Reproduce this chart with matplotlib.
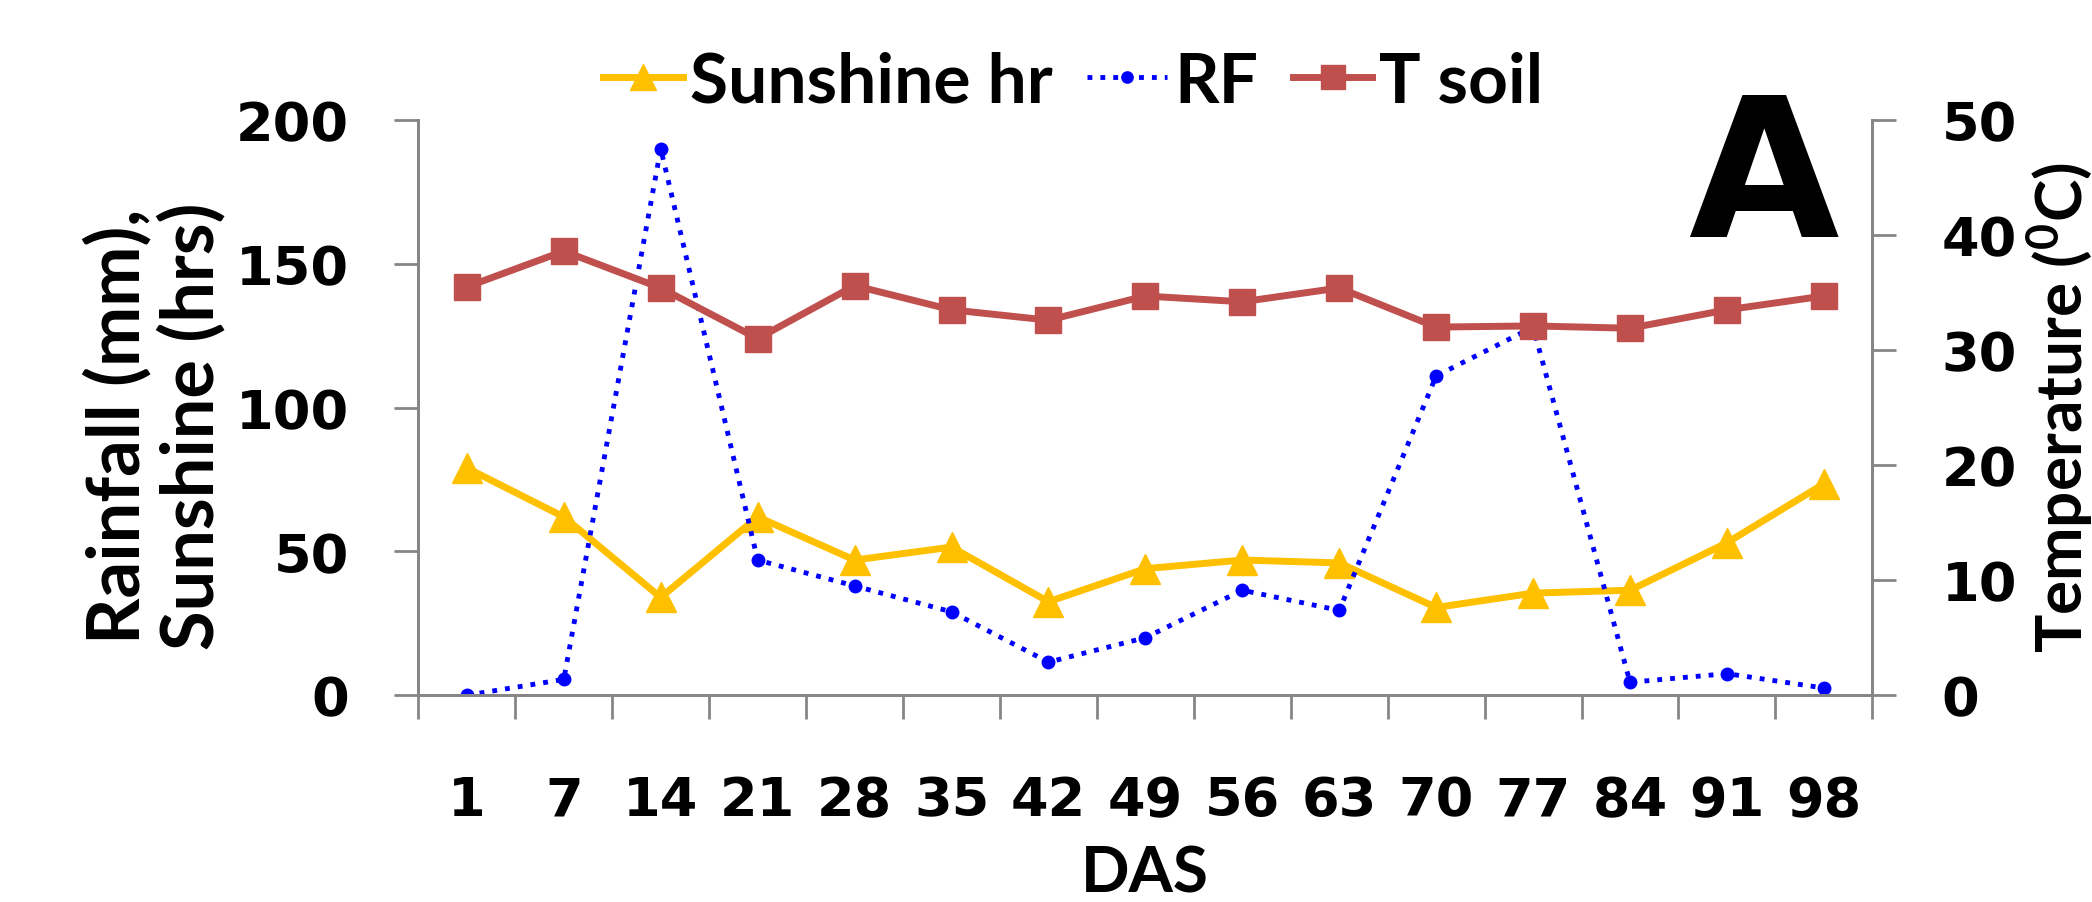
import numpy as np
import matplotlib
matplotlib.use("Agg")
import matplotlib.pyplot as plt

# Datos
das = ["1", "7", "14", "21", "28", "35", "42", "49", "56", "63", "70", "77", "84", "91", "98"]
sunshine = [79, 62, 34, 62, 47, 51.5, 32.5, 44, 47, 46, 30.5, 35.5, 36.5, 53, 73.5]
rainfall = [0, 5.5, 190, 47, 38, 29, 11.5, 20, 36.5, 29.5, 111, 128, 4.5, 7.5, 2.5]
t_soil = [35.5, 38.6, 35.4, 31, 35.6, 33.5, 32.6, 34.7, 34.2, 35.4, 32, 32.1, 31.9, 33.5, 34.7]

plt.rcParams['mathtext.fontset'] = 'custom'
plt.rcParams['mathtext.rm'] = 'Lato:bold'
plt.rcParams['mathtext.it'] = 'Lato:bold'

grey = '#868686'
tick_font = dict(family='DejaVu Sans', weight='bold', size=39)

fig = plt.figure(figsize=(20.92, 9.03), dpi=100)
ax = fig.add_axes([0.2, 0.229, 0.695, 0.637])
ax2 = ax.twinx()

x = np.arange(len(das))
l1, = ax.plot(x, sunshine, color='#FFC000', lw=5, marker='^', ms=21, label='Sunshine hr')
l2, = ax.plot(x, rainfall, color='#0000FF', lw=3.5, ls=':', marker='o', ms=9, label='RF')
l3, = ax2.plot(x, t_soil, color='#C0504D', lw=5, marker='s', ms=19, label='T soil')

ax.set_xlim(-0.5, len(das) - 0.5)
ax.set_ylim(0, 200)
ax2.set_ylim(0, 50)
ax.set_yticks([0, 50, 100, 150, 200])
ax2.set_yticks([0, 10, 20, 30, 40, 50])

# Ticks del eje x entre categorias, etiquetas en el centro
ax.set_xticks(np.arange(-0.5, len(das), 1.0))
ax.set_xticklabels([])
ax.set_xticks(x, minor=True)
ax.set_xticklabels(das, minor=True, fontdict=tick_font)
ax.tick_params(axis='x', which='major', length=17, width=2, color=grey, direction='out')
ax.tick_params(axis='x', which='minor', length=0, pad=57)

for a in (ax, ax2):
    a.spines['top'].set_visible(False)
    for s in ('left', 'right', 'bottom'):
        a.spines[s].set_color(grey)
        a.spines[s].set_linewidth(2)
    a.tick_params(axis='y', length=17, width=2, color=grey, pad=33)
    for t in a.get_yticklabels():
        t.set_fontfamily('DejaVu Sans')
        t.set_fontweight('bold')
        t.set_fontsize(39)

fig.text(0.074, 0.528, 'Rainfall (mm),\nSunshine (hrs)', rotation=90, ha='center', va='center',
         linespacing=1.1, family='Lato', weight='bold', size=52)
fig.text(0.9845, 0.549, 'Temperature ($^{0}$C)', rotation=90, ha='center', va='center',
         family='Lato', weight='bold', size=46)
fig.text(0.5475, 0.032, 'DAS', ha='center', va='center', family='Lato', weight='bold', size=46)
fig.text(0.879, 0.737, 'A', ha='right', va='baseline', family='DejaVu Sans', weight='bold', size=140)

fig.legend(handles=[l1, l2, l3], loc='center', bbox_to_anchor=(0.513, 0.908), ncol=3,
           frameon=False, prop=dict(family='Lato', weight='bold', size=50),
           handlelength=1.15, handletextpad=0.1, columnspacing=0.5, markerscale=0.9)

plt.savefig('out.png', dpi=100)
